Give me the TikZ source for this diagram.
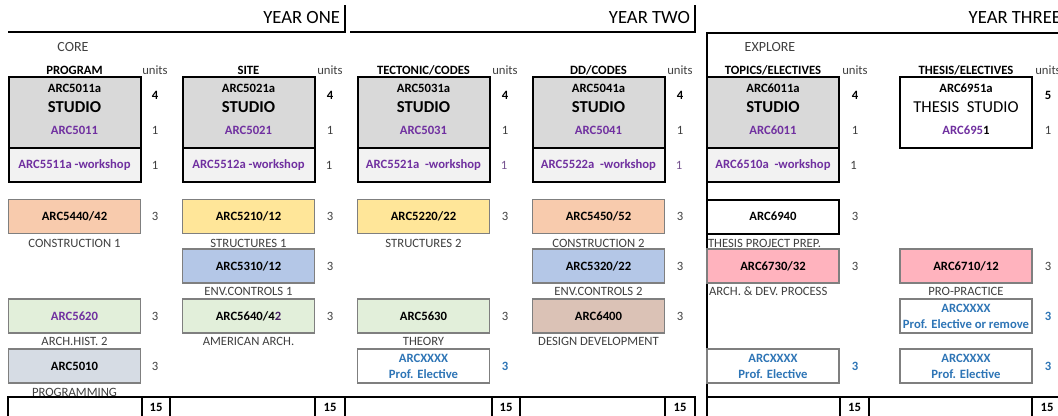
\documentclass[tikz,border=0pt]{standalone}
\usepackage{fontspec}
\setmainfont{Carlito}
\definecolor{txt}{HTML}{404040}
\definecolor{purp}{HTML}{7030A0}
\definecolor{blu}{HTML}{2E75B6}
\definecolor{studiofill}{HTML}{D9D9D9}
\definecolor{wsfill}{HTML}{F2F2F2}
\definecolor{salmon}{HTML}{F8CBAD}
\definecolor{yel}{HTML}{FFE699}
\definecolor{lblue}{HTML}{B4C7E7}
\definecolor{lgreen}{HTML}{E2EFDA}
\definecolor{lpink}{HTML}{FFB3BE}
\definecolor{lbrown}{HTML}{DBC2B6}
\definecolor{lslate}{HTML}{D6DCE4}
\definecolor{bordergray}{HTML}{7F7F7F}
\begin{document}
\begin{tikzpicture}[x=0.75pt,y=-0.75pt,
 every node/.style={inner sep=0pt,outer sep=0pt,font=\fontsize{9.5}{11}\selectfont},
 studiobox/.style={draw=black,line width=1.5pt,fill=studiofill,minimum width=99pt,minimum height=53.25pt},
 wsbox/.style={draw=black,line width=1.5pt,fill=wsfill,minimum width=99pt,minimum height=25.5pt},
 course/.style={draw=bordergray,line width=0.8pt,minimum width=99pt,minimum height=25.5pt,font=\fontsize{9.5}{12}\selectfont\bfseries,align=center},
 thickcourse/.style={course,draw=black,line width=1.5pt},
 code/.style={font=\fontsize{9.5}{11}\selectfont\bfseries},
 pcode/.style={code,text=purp},
 big/.style={font=\fontsize{12.5}{14}\selectfont\bfseries},
 lbl/.style={text=txt},
 toplbl/.style={text=txt,font=\fontsize{10.5}{12}\selectfont},
 unit/.style={text=txt},
 bunit/.style={font=\fontsize{9.5}{11}\selectfont\bfseries},
 elec/.style={course,text=blu,fill=white},
 hdr/.style={font=\fontsize{9.5}{11}\selectfont\bfseries},
 year/.style={font=\fontsize{14}{16}\selectfont, anchor=east},
 rule/.style={line width=1.5pt},
]
\useasboundingbox[fill=white] (0,0) rectangle (1058,415);

% year headers
\node[year] (y1) at (340,18) {YEAR ONE};
\node[year] (y2) at (690,18) {YEAR TWO};
\node[year] (y3) at (1061,18) {YEAR THREE};
\draw[rule] (8,32) -| (345,5);
\draw[rule] (350,32) -| (695,5);
\draw[rule] (1070,33) -- (707,33) -- (707,425);

% top labels
\node[toplbl] (core) at (73,47) {CORE};
\node[toplbl] (explore) at (770,47) {EXPLORE};
\foreach \x/\t [count=\i] in {74.5/PROGRAM,248.5/SITE,423.5/TECTONIC\slash CODES,598.5/DD\slash CODES,773/TOPICS\slash ELECTIVES,966/THESIS\slash ELECTIVES}
  \node[hdr] (h\i) at (\x,70) {\t};
\foreach \x [count=\i] in {155,330,505,680,855,1048}
  \node[unit] (uh\i) at (\x,70) {units};

% studio boxes
\foreach \x/\a/\b [count=\i] in {74.5/5011a/5011,248.5/5021a/5021,423.5/5031a/5031,598.5/5041a/5041,773/6011a/6011}{
  \node[studiobox] (s\i) at (\x,112.5) {};
  \node[code] (sa\i) at (\x,88) {ARC\a};
  \node[big] (st\i) at (\x,107) {STUDIO};
  \node[pcode] (sc\i) at (\x,130) {ARC\b};
}
\node[studiobox,fill=white] (s6) at (966,112.5) {};
\node[code] (sa6) at (966,88) {ARC6951a};
\node[font=\fontsize{12.5}{14}\selectfont] (st6) at (966,107) {THESIS\ \ STUDIO};
\node[pcode] (sc6) at (966,130) {ARC695\textcolor{black}{1}};
\foreach \x/\f [count=\i] in {155/4,330/4,505/4,680/4,855/4,1048/5}{
  \node[bunit] (su\i) at (\x,95) {\f};
  \node[unit] (sv\i) at (\x,130) {1};
}

% workshop boxes
\foreach \x/\t/\c [count=\i] in {74.5/5511a -workshop/txt,248.5/5512a -workshop/txt,423.5/5521a\ \ -workshop/purp!55!gray,598.5/5522a\ \ -workshop/purp!55!gray,773/6510a\ \ -workshop/txt}{
  \node[wsbox] (w\i) at (\x,165) {};
  \node[pcode] (wt\i) at (\x,165) {ARC\t};
  \node[text=\c] (wu\i) at (\x+80.5,165) {1};
}

% row A
\node[course,fill=salmon] (a1) at (74.5,216.5) {ARC5440/42};
\node[course,fill=yel] (a2) at (248.5,216.5) {ARC5210/12};
\node[course,fill=yel] (a3) at (423.5,216.5) {ARC5220/22};
\node[course,fill=salmon] (a4) at (598.5,216.5) {ARC5450/52};
\node[thickcourse,fill=white] (a5) at (773,216.5) {ARC6940};
\node[lbl] (la1) at (74.5,243) {CONSTRUCTION 1};
\node[lbl] (la2) at (248.5,243) {STRUCTURES 1};
\node[lbl] (la3) at (423.5,243) {STRUCTURES 2};
\node[lbl] (la4) at (598.5,243) {CONSTRUCTION 2};
\node[lbl,anchor=west] (la5) at (708,243) {THESIS PROJECT PREP.};
\foreach \x [count=\i] in {155,330,505,680,855}
  \node[unit] (ua\i) at (\x,216.5) {3};

% row B
\node[course,fill=lblue] (b2) at (248.5,266) {ARC5310/12};
\node[course,fill=lblue] (b4) at (598.5,266) {ARC5320/22};
\node[course,fill=lpink] (b5) at (773,266) {ARC6730/32};
\node[course,fill=lpink] (b6) at (966,266) {ARC6710/12};
\node[lbl] (lb2) at (248.5,291) {ENV.CONTROLS 1};
\node[lbl] (lb4) at (598.5,291) {ENV.CONTROLS 2};
\node[lbl,anchor=west] (lb5) at (709,291) {ARCH. \& DEV. PROCESS};
\node[lbl] (lb6) at (966,291) {PRO-PRACTICE};
\foreach \x [count=\i] in {330,680,855,1048}
  \node[unit] (ub\i) at (\x,266) {3};

% row C
\node[course,fill=lgreen,text=purp] (c1) at (74.5,316) {ARC5620};
\node[course,fill=lgreen] (c2) at (248.5,316) {ARC5640/4\textcolor{purp!60!black}{2}};
\node[course,fill=lgreen] (c3) at (423.5,316) {ARC5630};
\node[course,fill=lbrown] (c4) at (598.5,316) {ARC6400};
\node[elec] (c6) at (966,316) {ARCXXXX\\Prof. Elective or remove};
\node[lbl] (lc1) at (74.5,341) {ARCH.HIST. 2};
\node[lbl] (lc2) at (248.5,341) {AMERICAN ARCH.};
\node[lbl] (lc3) at (423.5,341) {THEORY};
\node[lbl] (lc4) at (598.5,341) {DESIGN DEVELOPMENT};
\foreach \x [count=\i] in {155,330,505,680}
  \node[unit] (uc\i) at (\x,316) {3};
\node[bunit,text=blu] (uc6) at (1048,316) {3};

% row D
\node[course,fill=lslate] (d1) at (74.5,366) {ARC5010};
\node[elec] (d3) at (423.5,366) {ARCXXXX\\Prof. Elective};
\node[elec] (d5) at (773,366) {ARCXXXX\\Prof. Elective};
\node[elec] (d6) at (966,366) {ARCXXXX\\Prof. Elective};
\node[lbl] (ld1) at (74.5,392) {PROGRAMMING};
\node[unit] (ud1) at (155,366) {3};
\node[bunit,text=blu] (ud3) at (505,366) {3};
\node[bunit,text=blu] (ud5) at (855,366) {3};
\node[bunit,text=blu] (ud6) at (1048,366) {3};

% bottom totals row
\draw[rule] (8,397) rectangle (695,430);
\foreach \x in {142,170,315,345,492,520,665}
  \draw[rule] (\x,397) -- (\x,430);
\draw[rule] (707,397) -- (1070,397);
\foreach \x in {840,869,1032}
  \draw[rule] (\x,397) -- (\x,430);
\foreach \x [count=\i] in {156,330,506,680,854.5,1047}
  \node[bunit] (t\i) at (\x,407) {15};
\end{tikzpicture}
\end{document}
